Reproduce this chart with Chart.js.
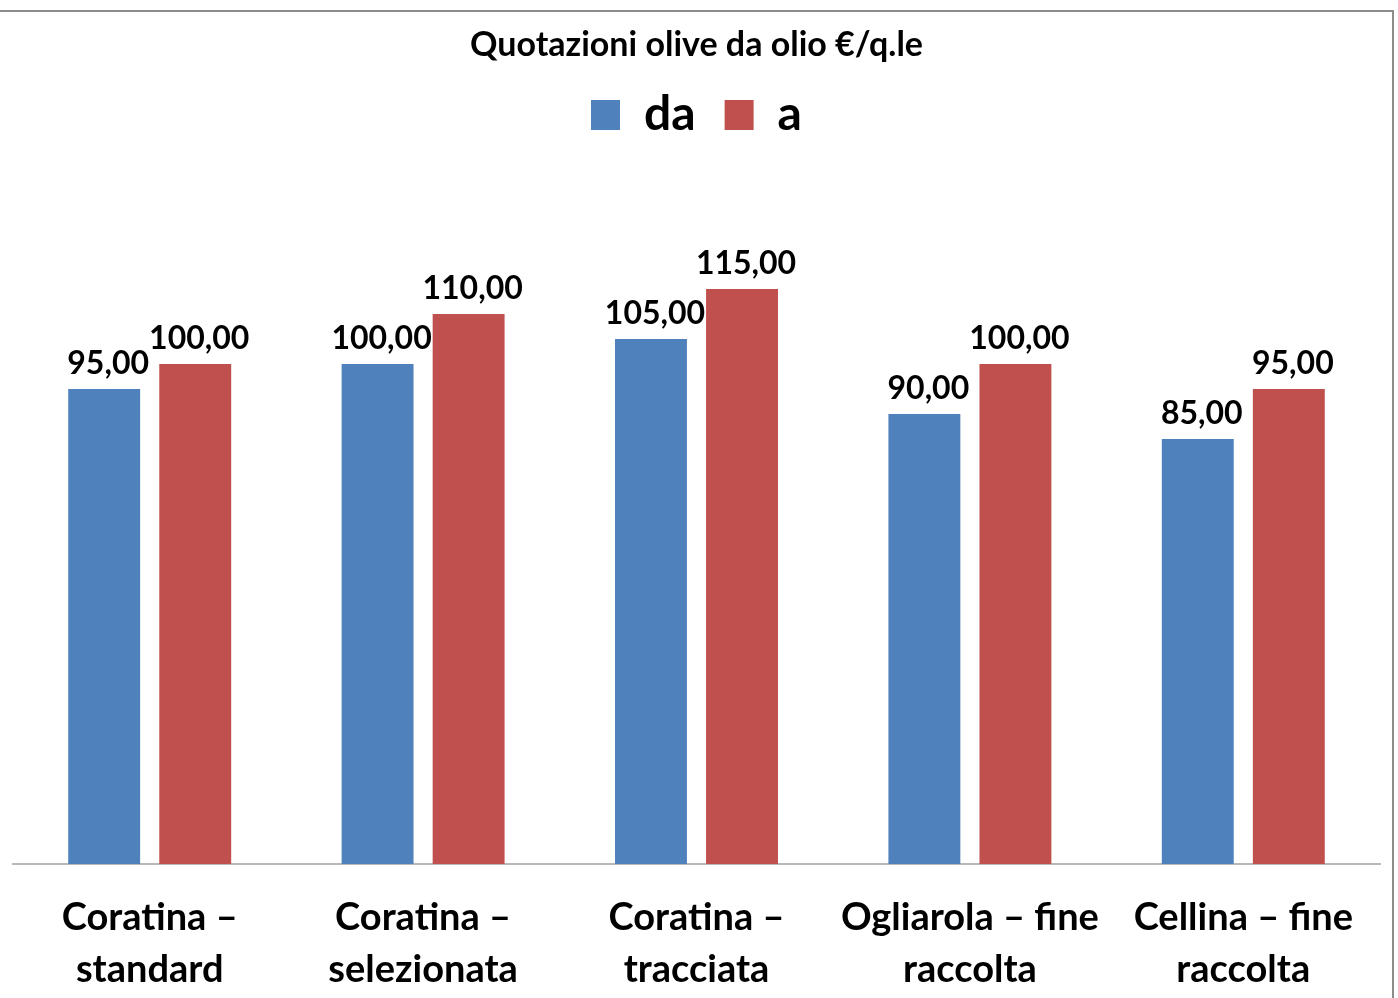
<!DOCTYPE html>
<html>
<head>
<meta charset="utf-8">
<script src="https://cdn.jsdelivr.net/npm/chart.js@4.4.1/dist/chart.umd.min.js"></script>
<style>
    body { margin: 0; background: #fff; overflow: hidden; }
    #wrap { position: relative; width: 1398px; height: 998px; overflow: hidden; }
    #frame {
        position: absolute; left: 0; top: 10px; width: 1394px; height: 1000px;
        border-top: 2px solid #8c8c8c; border-right: 2px solid #8c8c8c;
        box-sizing: border-box; pointer-events: none;
    }
    canvas { position: absolute; left: 0; top: 0; }
</style>
</head>
<body>
<div id="wrap">
    <canvas id="chart" width="1398" height="1024"></canvas>
    <div id="frame"></div>
</div>
<script>
// dati
const categories = [
    ['Coratina \u2013', 'standard'],
    ['Coratina \u2013', 'selezionata'],
    ['Coratina \u2013', 'tracciata'],
    ['Ogliarola \u2013 fine', 'raccolta'],
    ['Cellina \u2013 fine', 'raccolta']
];
const prezziDa = [95, 100, 105, 90, 85];
const prezziA = [100, 110, 115, 100, 95];

const FONT = 'Lato, "Open Sans", sans-serif';

// etichette valore sopra le barre (formato italiano)
const valueLabels = {
    id: 'valueLabels',
    afterDatasetsDraw(chart) {
        const ctx = chart.ctx;
        ctx.save();
        ctx.font = 'bold 32px ' + FONT;
        ctx.fillStyle = '#000';
        ctx.textAlign = 'center';
        ctx.textBaseline = 'alphabetic';
        chart.data.datasets.forEach((ds, i) => {
            chart.getDatasetMeta(i).data.forEach((bar, j) => {
                const txt = ds.data[j].toFixed(2).replace('.', ',');
                ctx.fillText(txt, bar.x + 4, bar.y - 15);
            });
        });
        ctx.restore();
    }
};

// spazio extra sotto la legenda
const legendGap = {
    id: 'legendGap',
    beforeInit(chart) {
        const fit = chart.legend.fit;
        chart.legend.fit = function () {
            fit.call(this);
            this.height += 15;
        };
    }
};

new Chart(document.getElementById('chart'), {
    type: 'bar',
    data: {
        labels: categories,
        datasets: [
            { label: 'da', data: prezziDa, backgroundColor: '#4F81BD' },
            { label: 'a', data: prezziA, backgroundColor: '#C0504D' }
        ]
    },
    options: {
        responsive: false,
        animation: false,
        layout: { padding: { left: 13, right: 18, top: 0, bottom: 0 } },
        datasets: {
            bar: { categoryPercentage: 0.666, barPercentage: 0.79 }
        },
        plugins: {
            title: {
                display: true,
                text: 'Quotazioni olive da olio \u20ac/q.le',
                color: '#000',
                font: { family: FONT, size: 34, weight: 'bold', lineHeight: 1 },
                padding: { top: 28, bottom: 0 }
            },
            legend: {
                display: true,
                position: 'top',
                labels: {
                    color: '#000',
                    font: { family: FONT, size: 48, weight: 'bold' },
                    boxWidth: 29,
                    boxHeight: 30,
                    padding: 29
                }
            },
            tooltip: { enabled: false }
        },
        scales: {
            x: {
                grid: { display: false, drawTicks: false },
                border: { display: true, color: '#b8b8b8', width: 2 },
                ticks: {
                    color: '#000',
                    font: { family: FONT, size: 38, weight: 'bold', lineHeight: 1.368 },
                    padding: 28,
                    maxRotation: 0,
                    autoSkip: false
                }
            },
            y: {
                display: false,
                min: 0,
                max: 140
            }
        }
    },
    plugins: [valueLabels, legendGap]
});
</script>
</body>
</html>
